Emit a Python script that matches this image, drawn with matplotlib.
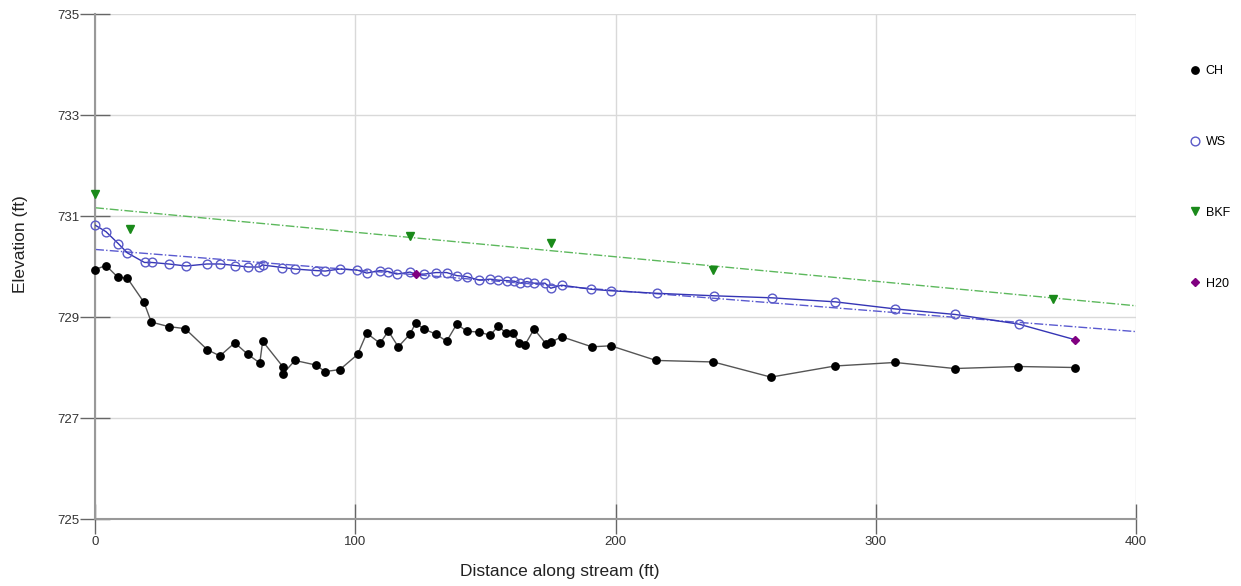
import numpy as np
import matplotlib
matplotlib.use('Agg')
import matplotlib.pyplot as plt

plt.rcParams['font.family'] = ['Liberation Sans', 'DejaVu Sans']

# channel bed (CH)
ch_x = [0, 4.2, 8.7, 12.4, 18.8, 21.6, 28.3, 34.6, 43.2, 48.0, 53.7, 58.7, 63.3, 64.4,
        72.1, 72.1, 76.8, 84.8, 88.4, 94.1, 100.9, 104.4, 109.5, 112.7, 116.5, 121.0,
        123.2, 126.5, 131.0, 135.1, 139.0, 142.8, 147.7, 151.8, 155.0, 157.9, 160.7,
        163.0, 165.2, 168.7, 173.3, 175.2, 179.3, 190.9, 198.2, 215.6, 237.6, 259.7,
        284.3, 307.4, 330.3, 354.7, 376.6]
ch_y = [729.94, 730.02, 729.79, 729.77, 729.29, 728.90, 728.81, 728.77, 728.35, 728.23,
        728.49, 728.26, 728.09, 728.52, 728.02, 727.87, 728.14, 728.05, 727.92, 727.96,
        728.26, 728.68, 728.48, 728.72, 728.41, 728.66, 728.88, 728.76, 728.66, 728.52,
        728.86, 728.72, 728.70, 728.64, 728.82, 728.68, 728.68, 728.49, 728.45, 728.76,
        728.47, 728.50, 728.61, 728.41, 728.43, 728.14, 728.11, 727.81, 728.03, 728.10,
        727.98, 728.02, 728.00]

# water surface (WS)
ws_x = [0, 4.2, 9.0, 12.4, 19.0, 21.8, 28.3, 35.0, 43.0, 48.2, 53.9, 58.7, 63.1, 64.4,
        72.0, 76.8, 84.8, 88.4, 94.1, 100.7, 104.4, 109.5, 112.7, 115.9, 121.0, 126.5,
        131.0, 135.1, 139.0, 142.8, 147.7, 151.8, 155.0, 158.2, 161.1, 163.3, 165.9,
        168.7, 172.9, 175.1, 179.3, 190.6, 198.2, 215.8, 238.0, 260.1, 284.5, 307.5,
        330.6, 354.9]
ws_y = [730.82, 730.69, 730.45, 730.27, 730.08, 730.08, 730.05, 730.01, 730.05, 730.05,
        730.02, 729.99, 729.99, 730.03, 729.98, 729.95, 729.92, 729.91, 729.95, 729.93,
        729.87, 729.92, 729.90, 729.85, 729.89, 729.85, 729.88, 729.88, 729.82, 729.80,
        729.73, 729.75, 729.73, 729.72, 729.71, 729.67, 729.70, 729.67, 729.67, 729.57,
        729.63, 729.55, 729.52, 729.47, 729.42, 729.38, 729.30, 729.16, 729.05, 728.86]

# bankfull (BKF)
bkf_x = [0, 13.4, 121.0, 175.2, 237.5, 368.1]
bkf_y = [731.44, 730.74, 730.60, 730.47, 729.93, 729.36]

# water surface shots (H20)
h20_x = [123.2, 376.6]
h20_y = [729.85, 728.55]

fig = plt.figure(figsize=(12.41, 5.86), dpi=100)
ax = fig.add_axes([0.0766, 0.1143, 0.8388, 0.8618])

# water surface line runs through the H20 shots too
wl = sorted(list(zip(ws_x, ws_y)) + list(zip(h20_x, h20_y)))
wl_x = [p[0] for p in wl]
wl_y = [p[1] for p in wl]

xx = np.array([0, 400])
bkf_fit = np.polyfit(bkf_x, bkf_y, 1)
ws_fit = np.polyfit(wl_x, wl_y, 1)
ax.plot(xx, np.polyval(bkf_fit, xx), color='#5cb85c', lw=1, ls='-.', zorder=2)
ax.plot(xx, np.polyval(ws_fit, xx), color='#5a5ad0', lw=1, ls='-.', zorder=2)

ax.plot(ch_x, ch_y, color='#555555', lw=1, zorder=3)
ax.plot(ch_x, ch_y, 'o', color='black', ms=5.3, zorder=4, label='CH', clip_on=False)
ax.plot(wl_x, wl_y, color='#3535b5', lw=1, zorder=3)
ax.plot(ws_x, ws_y, 'o', mfc='none', mec='#5a5ac8', mew=1, ms=6.3, zorder=4,
        label='WS', clip_on=False)
ax.plot(bkf_x, bkf_y, 'v', color='#1a8a1a', ms=6, zorder=5, label='BKF', clip_on=False)
ax.plot(h20_x, h20_y, 'D', color='#800080', ms=4.5, zorder=5, label='H20', clip_on=False)

ax.set_xlim(0, 400)
ax.set_ylim(725, 735)
ax.set_xticks([0, 100, 200, 300, 400])
ax.set_yticks([725, 727, 729, 731, 733, 735])
ax.grid(True, color='#d9d9d9', lw=1)
ax.set_axisbelow(True)
for s in ['top', 'right']:
    ax.spines[s].set_visible(False)
for s in ['left', 'bottom']:
    ax.spines[s].set_color('#999999')
    ax.spines[s].set_linewidth(1.5)
ax.tick_params(direction='inout', length=22, width=1, colors='#666666',
               labelcolor='#333333', labelsize=9.5)
ax.tick_params(axis='y', pad=0)
ax.tick_params(axis='x', pad=1)

ax.set_xlabel('Distance along stream (ft)', fontsize=12.5, color='#222222')
ax.set_ylabel('Elevation (ft)', fontsize=12.5, color='#222222')
ax.xaxis.set_label_coords(0.4467, -0.089)
ax.yaxis.set_label_coords(-0.064, 0.545)

fig.legend(loc='upper left', bbox_to_anchor=(0.954, 0.897), frameon=False,
           fontsize=9, labelspacing=4.7, handletextpad=0.35, handlelength=1.0,
           borderaxespad=0)

fig.savefig('out.png', dpi=100)
